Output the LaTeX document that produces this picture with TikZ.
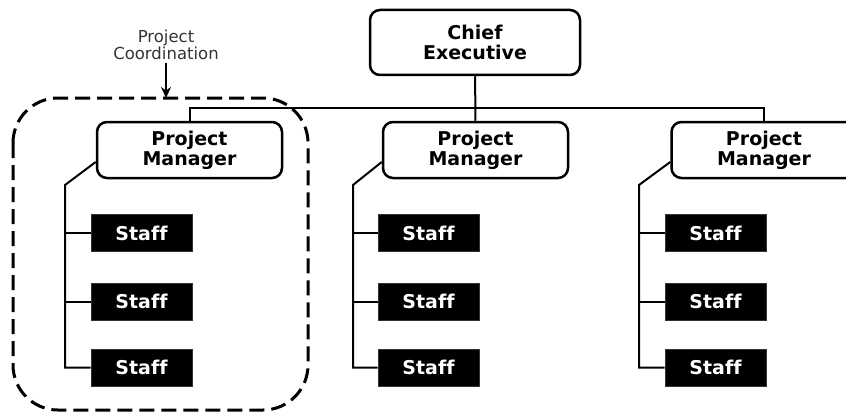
\documentclass[tikz,border=0pt]{standalone}
\usepackage{fontspec}
\setmainfont{DejaVu Sans}[Ligatures=NoCommon]
\usetikzlibrary{arrows.meta,calc,positioning}

\begin{document}
\begin{tikzpicture}[x=1pt,y=-1pt]
		\tikzstyle{every node}=[font=\fontsize{19}{20}\selectfont\bfseries]
		\tikzstyle{headbox}=[draw, line width=2.5pt, rounded corners=10pt, align=center, inner sep=0pt]
		\tikzstyle{staffbox}=[draw=black!80, fill=black, text=white, line width=1pt, minimum width=101pt, minimum height=37pt, inner sep=0pt]
		\tikzstyle{link}=[line width=2pt]
		\useasboundingbox (0,0) rectangle (846,412);
		\node [headbox, minimum width=210pt, minimum height=65pt] (chief) at (475,42.5) {Chief\\Executive};
		\node [headbox, minimum width=185pt, minimum height=56pt] (pm1) at (189.5,150) {Project\\Manager};
		\node [headbox, minimum width=185pt, minimum height=56pt] (pm2) at (475.5,150) {Project\\Manager};
		\node [headbox, minimum width=185pt, minimum height=56pt] (pm3) at (764,150) {Project\\Manager};
		\node [staffbox] (s11) at (141.5,233) {Staff};
		\node [staffbox] (s12) at (141.5,301.5) {Staff};
		\node [staffbox] (s13) at (141.5,367.5) {Staff};
		\node [staffbox] (s21) at (428.5,233) {Staff};
		\node [staffbox] (s22) at (428.5,301.5) {Staff};
		\node [staffbox] (s23) at (428.5,367.5) {Staff};
		\node [staffbox] (s31) at (715.5,233) {Staff};
		\node [staffbox] (s32) at (715.5,301.5) {Staff};
		\node [staffbox] (s33) at (715.5,367.5) {Staff};
		% chief executive to the project managers
		\coordinate (bus) at (475,108);
		\draw [link] (chief) -- (pm2);
		\draw [link] (pm1.north) -- (pm1.north |- bus) -- (pm3.north |- bus) -- (pm3.north);
		% project managers to their staff
		\coordinate (t1) at (65,185);
		\coordinate (t2) at (353,185);
		\coordinate (t3) at (639,185);
		\draw [link] ($(pm1.west)+(0,12)$) -- (t1) -- (t1 |- s13) -- (s13);
		\draw [link] (t1 |- s11) -- (s11);
		\draw [link] (t1 |- s12) -- (s12);
		\draw [link] ($(pm2.west)+(0,12)$) -- (t2) -- (t2 |- s23) -- (s23);
		\draw [link] (t2 |- s21) -- (s21);
		\draw [link] (t2 |- s22) -- (s22);
		\draw [link] ($(pm3.west)+(0,12)$) -- (t3) -- (t3 |- s33) -- (s33);
		\draw [link] (t3 |- s31) -- (s31);
		\draw [link] (t3 |- s32) -- (s32);
		% project coordination frame
		\draw [line width=3pt, dash pattern=on 15pt off 7pt, rounded corners=45pt] (13,98) rectangle (308,410);
		\node [font=\fontsize{16.5}{17}\selectfont, text=black!80, align=center] (coord) at (166,45) {Project\\Coordination};
		\coordinate (frametop) at (166,98);
		\draw [line width=2pt, -{Stealth[length=11pt,width=10pt]}] (coord) -- (frametop);
	\end{tikzpicture}
\end{document}
